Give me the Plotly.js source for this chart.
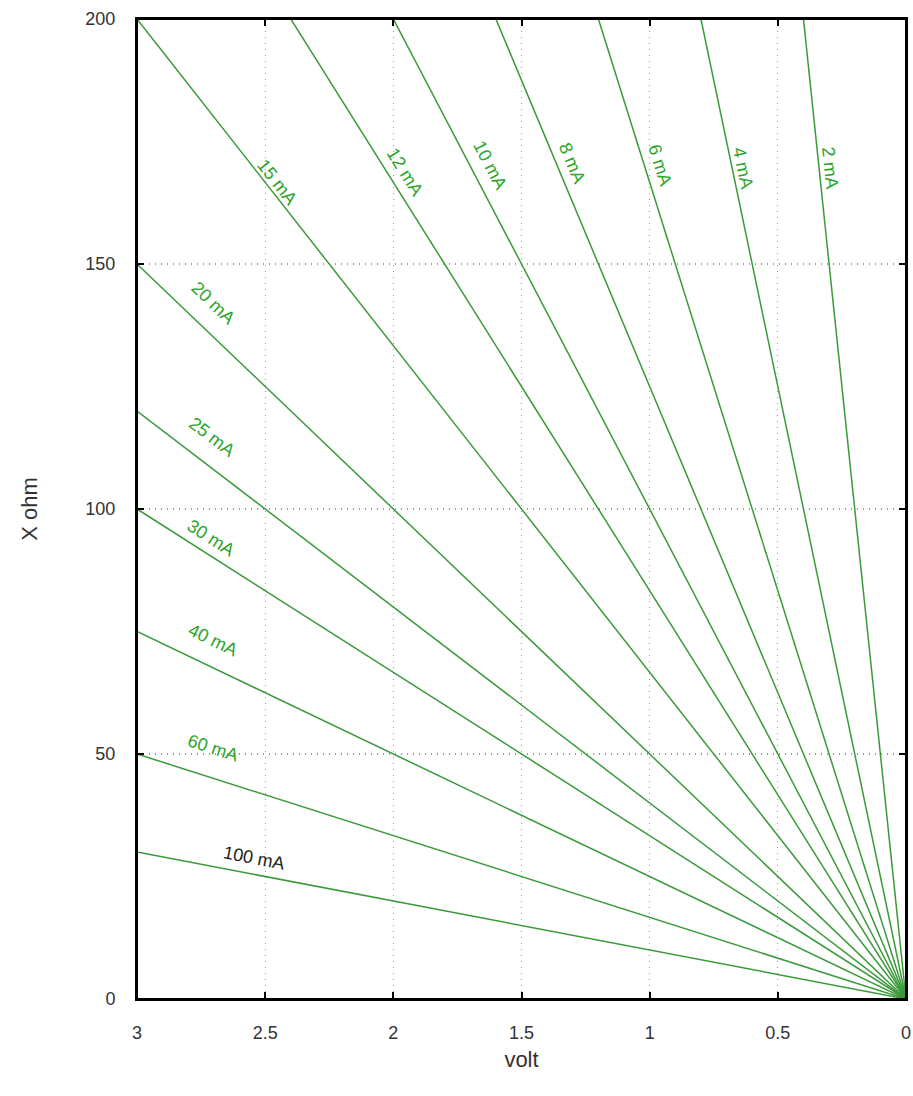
<!DOCTYPE html>
<html>
<head>
<meta charset="utf-8">
<script src="https://cdn.plot.ly/plotly-3.0.1.min.js"></script>
<style>html,body{margin:0;padding:0;background:#fff;}#chart{width:913px;height:1096px;}</style>
</head>
<body>
<div id="chart"></div>
<script>
// currents in mA, each line is R = V / I
const currents_mA = [2, 4, 6, 8, 10, 12, 15, 20, 25, 30, 40, 60, 100];
const labelTexts = ["2 mA", "4 mA", "6 mA", "8 mA", "10 mA", "12 mA", "15 mA", "20 mA", "25 mA", "30 mA", "40 mA", "60 mA", "100 mA"];
// label centres (volt, ohm)
const labelVolt = [0.296, 0.636, 0.960, 1.303, 1.623, 1.954, 2.454, 2.703, 2.707, 2.711, 2.703, 2.703, 2.544];
const labelOhm  = [169.6, 169.6, 170.2, 170.6, 170.2, 168.8, 166.7, 142.0, 114.7, 94.1, 73.3, 51.2, 28.8];
const voltEnds = [0, 3];
const xTicks = [3, 2.5, 2, 1.5, 1, 0.5, 0];
const yTicks = [0, 50, 100, 150, 200];

const W = 913, H = 1096;
const margin = {l: 137, r: 7, t: 19, b: 97};
const plotW = W - margin.l - margin.r;
const plotH = H - margin.t - margin.b;
const pxPerVolt = plotW / 3;
const pxPerOhm = plotH / 200;
const FONT = 'Liberation Sans, Arial, sans-serif';

const traces = currents_mA.map(I => ({
  x: voltEnds,
  y: voltEnds.map(v => v * 1000 / I),
  mode: 'lines',
  line: {color: '#3a9a3a', width: 1.5},
  hoverinfo: 'skip',
  showlegend: false
}));

const annotations = currents_mA.map((I, i) => {
  const slopePx = (1000 / I) * pxPerOhm / pxPerVolt;
  const ang = Math.atan(slopePx) * 180 / Math.PI;
  return {
    x: labelVolt[i], y: labelOhm[i], xref: 'x', yref: 'y',
    text: labelTexts[i], showarrow: false, textangle: ang,
    font: {family: FONT, size: 18, color: I === 100 ? '#222222' : '#2aa52a'},
    xanchor: 'center', yanchor: 'middle'
  };
});

const axisCommon = {
  showline: true, linecolor: '#000', linewidth: 2, mirror: 'ticks',
  ticks: 'inside', ticklen: 7, tickcolor: '#000', tickwidth: 2,
  showgrid: true, gridcolor: '#999999', griddash: '1px,5px', gridwidth: 1.2,
  zeroline: false,
  tickfont: {family: FONT, size: 18, color: '#333'}
};

const layout = {
  width: W, height: H,
  margin: margin,
  paper_bgcolor: '#fff', plot_bgcolor: '#fff',
  showlegend: false,
  xaxis: Object.assign({}, axisCommon, {
    range: [3, 0], tickvals: xTicks, ticktext: xTicks.map(String),
    ticklabelstandoff: 16,
    title: {text: 'volt', standoff: 10, font: {family: FONT, size: 22, color: '#333'}}
  }),
  yaxis: Object.assign({}, axisCommon, {
    range: [0, 200], tickvals: yTicks, ticktext: yTicks.map(String),
    ticklabelstandoff: 16,
    title: {text: 'X ohm', standoff: 42, font: {family: FONT, size: 22, color: '#333'}}
  }),
  shapes: [{
    type: 'rect', xref: 'paper', yref: 'paper', x0: 0, x1: 1, y0: 0, y1: 1,
    line: {color: '#000', width: 2}, fillcolor: 'rgba(0,0,0,0)', layer: 'above'
  }],
  annotations: annotations
};

Plotly.newPlot('chart', traces, layout, {displayModeBar: false, staticPlot: true});
</script>
</body>
</html>
